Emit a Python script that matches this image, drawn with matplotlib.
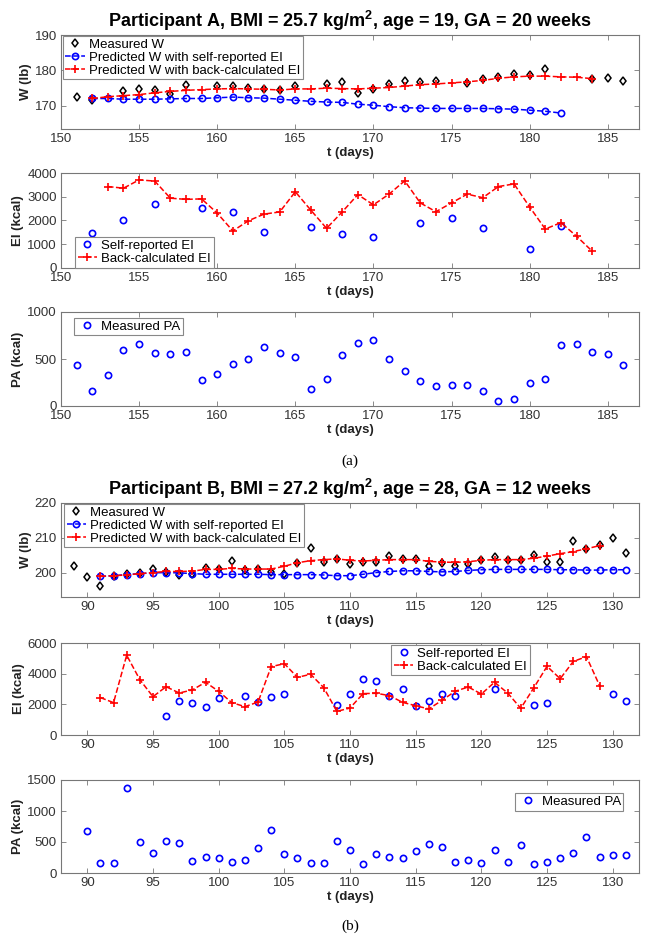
import matplotlib
matplotlib.use("Agg")
import matplotlib.pyplot as plt
import numpy as np

plt.rcParams['font.family'] = ['Liberation Sans', 'DejaVu Sans']
plt.rcParams['mathtext.fontset'] = 'custom'
plt.rcParams['mathtext.rm'] = 'Liberation Sans'
plt.rcParams['mathtext.bf'] = 'Liberation Sans:bold'

# ---------------- Participant A ----------------
titleA = "Participant A, BMI = 25.7 kg/m$^\\mathbf{2}$, age = 19, GA = 20 weeks"
tA_meas = [151,152,154,155,156,157,158,160,161,162,163,164,165,167,168,169,170,
           171,172,173,174,176,177,178,179,180,181,184,185,186]
wA_meas = [172.4,171.6,174.1,174.9,174.5,173.3,175.8,175.5,175.5,175.0,174.9,174.4,175.6,
           176.1,176.8,173.7,174.9,176.1,176.9,176.7,177.0,176.4,177.5,178.3,179.0,178.6,
           180.4,177.5,177.8,177.0]
tA_self = list(range(152, 183))
wA_self = [172.1,172.1,171.9,171.9,171.9,172.0,172.1,172.1,172.3,172.5,172.3,172.2,171.9,
           171.6,171.3,171.1,171.0,170.5,170.2,169.8,169.5,169.4,169.3,169.3,169.3,169.3,
           169.2,169.1,168.8,168.5,168.0]
tA_back = list(range(152, 185))
wA_back = [172.1,172.6,172.9,173.2,173.7,174.1,174.4,174.6,174.8,174.9,174.8,174.7,174.5,
           174.8,174.8,175.0,174.9,174.8,175.0,175.2,175.6,176.0,176.2,176.5,176.8,177.2,
           177.8,178.2,178.4,178.4,178.2,178.1,177.7]

tA_EIself = [152,154,156,159,161,163,166,168,170,173,175,177,180,182]
eiA_self = [1490,2030,2690,2530,2360,1500,1740,1440,1300,1890,2090,1700,790,1760]
tA_EIback = list(range(153, 185))
eiA_back = [3430,3360,3710,3660,2940,2890,2910,2310,1560,1990,2270,2360,3210,2430,1670,
            2360,3090,2660,3110,3670,2740,2370,2740,3110,2960,3430,3540,2570,1640,1910,
            1340,710]

tA_PA = list(range(151, 187))
paA = [436,161,332,596,661,568,554,571,275,336,450,500,629,568,518,179,282,539,675,707,
       504,375,264,218,221,221,157,57,79,246,282,646,661,579,550,436]

# ---------------- Participant B ----------------
titleB = "Participant B, BMI = 27.2 kg/m$^\\mathbf{2}$, age = 28, GA = 12 weeks"
tB_meas = list(range(89, 132))
wB_meas = [202.0,198.7,196.3,199.1,199.6,199.9,201.0,200.2,199.3,199.8,201.3,201.0,203.3,
           200.7,201.0,200.3,199.6,202.9,207.2,203.2,204.0,202.6,203.2,203.2,204.8,204.1,
           204.0,202.1,202.9,202.1,202.5,203.8,204.6,203.8,203.6,205.0,203.0,203.2,209.0,
           206.9,208.0,209.9,205.7]
tB_self = list(range(91, 132))
wB_self = [199.0,199.2,199.5,199.8,200.0,200.1,200.0,199.8,199.6,199.6,199.6,199.6,199.6,
           199.5,199.5,199.5,199.5,199.4,199.2,199.2,199.6,200.1,200.4,200.6,200.6,200.4,
           200.3,200.4,200.7,200.9,201.0,201.0,201.0,201.0,201.0,200.9,200.9,200.8,200.8,
           200.9,200.9]
tB_back = list(range(91, 130))
wB_back = [199.0,199.2,199.4,199.8,200.1,200.4,200.4,200.5,201.0,201.0,201.3,201.1,201.1,
           201.1,201.9,202.9,203.5,203.8,204.0,203.6,203.4,203.6,203.8,203.8,203.8,203.3,
           203.1,203.0,203.2,203.6,203.8,203.8,203.8,204.2,204.8,205.5,206.1,206.9,207.8]

tB_EIself = [96,97,98,99,100,102,103,104,105,109,110,111,112,113,114,115,116,117,118,121,
             124,125,130,131]
eiB_self = [1240,2220,2070,1850,2390,2540,2170,2480,2650,1980,2650,3650,3500,2540,3000,
            1870,2200,2700,2570,2980,1940,2090,2700,2240]
tB_EIback = list(range(91, 130))
eiB_back = [2440,2110,5200,3610,2500,3150,2740,2940,3440,2850,2110,1850,2150,4460,4650,
            3760,3960,3090,1540,1760,2700,2720,2570,2130,1910,1700,2260,2850,3130,2670,
            3440,2740,1740,3090,4480,3670,4800,5110,3220]

tB_PA = list(range(90, 132))
paB = [677,161,161,1371,500,328,511,478,188,263,242,183,215,403,688,301,237,156,156,511,
       376,151,301,263,237,355,468,425,172,210,167,366,183,457,145,183,247,323,581,253,
       290,290]

# ---------------- styling ----------------
W, H = 645, 942
fig = plt.figure(figsize=(W/100, H/100), dpi=100)
FS = 9.5
TICKC = '#333333'
SPC = '#777777'

def pos(top, bot):
    return [61/W, 1 - bot/H, (639-61)/W, (bot-top)/H]

def style(ax, xlim, ylim, xticks, yticks, ylabel):
    ax.set_xlim(*xlim); ax.set_ylim(*ylim)
    ax.set_xticks(xticks); ax.set_yticks(yticks)
    ax.tick_params(direction='in', top=True, right=True, length=3.5, width=0.6,
                   color=SPC, labelsize=FS, labelcolor=TICKC, pad=3)
    for s in ax.spines.values():
        s.set_color(SPC); s.set_linewidth(0.8)
    ax.set_xlabel('t (days)', fontsize=FS, fontweight='bold', labelpad=1, color='#222222')
    ax.set_ylabel(ylabel, fontsize=FS, fontweight='bold', labelpad=2, color='#222222')

def leg(ax, **kw):
    l = ax.legend(fontsize=FS, frameon=True, fancybox=False, framealpha=1,
                  edgecolor='#888888', borderpad=0.2, labelspacing=0.05,
                  handlelength=1.5, handletextpad=0.3, borderaxespad=0,
                  numpoints=1, **kw)
    l.get_frame().set_linewidth(0.8)
    return l

mk_d = dict(marker='d', ls='none', mfc='none', mec='black', ms=4.5, mew=1.1)
mk_o = dict(marker='o', mfc='none', mec='blue', ms=4.5, mew=1.2)
mk_p = dict(marker='+', mec='red', ms=6, mew=1.2)

# ---- A: weight ----
ax = fig.add_axes(pos(35, 129))
ax.plot(tA_meas, wA_meas, label='Measured W', **mk_d)
ax.plot(tA_self, wA_self, color='blue', ls='--', lw=1.1,
        label='Predicted W with self-reported EI', **mk_o)
ax.plot(tA_back, wA_back, color='red', ls='--', lw=1.1,
        label='Predicted W with back-calculated EI', **mk_p)
style(ax, (150, 187), (163.5, 190), range(150, 186, 5), [170, 180, 190], 'W (lb)')
ax.set_title(titleA, fontsize=13, fontweight='bold', pad=6)
leg(ax, loc='upper left', bbox_to_anchor=(0.003, 0.99))

# ---- A: EI ----
ax = fig.add_axes(pos(173, 268))
ax.plot(tA_EIself, eiA_self, ls='none', label='Self-reported EI', **mk_o)
ax.plot(tA_EIback, eiA_back, color='red', ls='--', lw=1.1,
        label='Back-calculated EI', **mk_p)
style(ax, (150, 187), (0, 4000), range(150, 186, 5), range(0, 4001, 1000), 'EI (kcal)')
leg(ax, loc='lower left', bbox_to_anchor=(0.024, 0.005))

# ---- A: PA ----
ax = fig.add_axes(pos(312, 406))
ax.plot(tA_PA, paA, ls='none', label='Measured PA', **mk_o)
style(ax, (150, 187), (0, 1000), range(150, 186, 5), [0, 500, 1000], 'PA (kcal)')
leg(ax, loc='upper left', bbox_to_anchor=(0.023, 0.94))

fig.text(350/W, 1 - 461/H, '(a)', ha='center', va='center', fontsize=11,
         family=['Liberation Serif', 'DejaVu Serif'])

# ---- B: weight ----
ax = fig.add_axes(pos(503, 597))
ax.plot(tB_meas, wB_meas, label='Measured W', **mk_d)
ax.plot(tB_self, wB_self, color='blue', ls='--', lw=1.1,
        label='Predicted W with self-reported EI', **mk_o)
ax.plot(tB_back, wB_back, color='red', ls='--', lw=1.1,
        label='Predicted W with back-calculated EI', **mk_p)
style(ax, (88, 132), (193.1, 220), range(90, 131, 5), [200, 210, 220], 'W (lb)')
ax.set_title(titleB, fontsize=13, fontweight='bold', pad=6)
leg(ax, loc='upper left', bbox_to_anchor=(0.005, 0.99))

# ---- B: EI ----
ax = fig.add_axes(pos(643, 735))
ax.plot(tB_EIself, eiB_self, ls='none', label='Self-reported EI', **mk_o)
ax.plot(tB_EIback, eiB_back, color='red', ls='--', lw=1.1,
        label='Back-calculated EI', **mk_p)
style(ax, (88, 132), (0, 6000), range(90, 131, 5), range(0, 6001, 2000), 'EI (kcal)')
leg(ax, loc='upper left', bbox_to_anchor=(0.571, 0.98))

# ---- B: PA ----
ax = fig.add_axes(pos(780, 873))
ax.plot(tB_PA, paB, ls='none', label='Measured PA', **mk_o)
style(ax, (88, 132), (0, 1500), range(90, 131, 5), [0, 500, 1000, 1500], 'PA (kcal)')
leg(ax, loc='upper right', bbox_to_anchor=(0.973, 0.86))

fig.text(350/W, 1 - 926/H, '(b)', ha='center', va='center', fontsize=11,
         family=['Liberation Serif', 'DejaVu Serif'])

fig.savefig('out.png', dpi=100, facecolor='white')
